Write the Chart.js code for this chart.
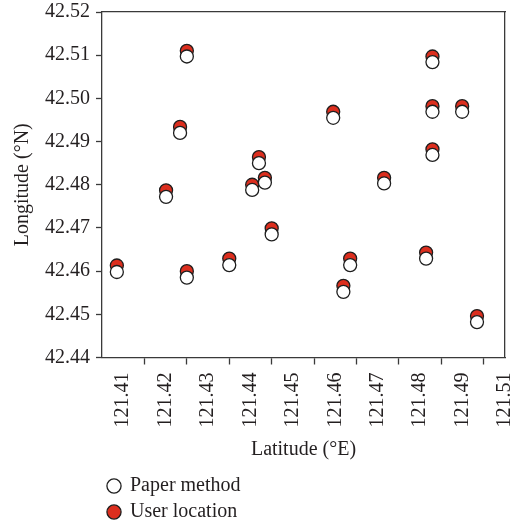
<!DOCTYPE html>
<html><head><meta charset="utf-8">
<script src="https://cdn.jsdelivr.net/npm/chart.js@4/dist/chart.umd.min.js"></script>
<style>html,body{margin:0;padding:0;background:#fff}#wrap{width:518px;height:526px}</style>
</head><body><div id="wrap"><canvas id="c" width="518" height="526"></canvas></div>
<script>
// ---- data ----
const latPaper = [121.4200, 121.4184, 121.4370, 121.4384, 121.4354, 121.4151, 121.4035, 121.4200, 121.4300, 121.4400,
                  121.4779, 121.4545, 121.4779, 121.4849, 121.4779, 121.4665, 121.4585, 121.4569, 121.4764, 121.4884];
const lonPaper = [42.5097, 42.4920, 42.4850, 42.4805, 42.4788, 42.4772, 42.4598, 42.4585, 42.4614, 42.4685,
                  42.5084, 42.4955, 42.4969, 42.4969, 42.4869, 42.4803, 42.4614, 42.4552, 42.4629, 42.4482];
const latUser  = [121.4200, 121.4184, 121.4370, 121.4384, 121.4354, 121.4151, 121.4035, 121.4200, 121.4300, 121.4400,
                  121.4779, 121.4545, 121.4779, 121.4849, 121.4779, 121.4665, 121.4585, 121.4569, 121.4764, 121.4884];
const lonUser  = [42.5110, 42.4934, 42.4864, 42.4816, 42.4800, 42.4787, 42.4613, 42.4600, 42.4629, 42.4699,
                  42.5097, 42.4969, 42.4982, 42.4982, 42.4882, 42.4816, 42.4629, 42.4566, 42.4643, 42.4496];

const seriesNames = ['Paper method', 'User location'];
const xTickValues = [121.41, 121.42, 121.43, 121.44, 121.45, 121.46, 121.47, 121.48, 121.49];
const xLabelSlots = [121.41, 121.42, 121.43, 121.44, 121.45, 121.46, 121.47, 121.48, 121.49, 121.50];
const xTickLabels = ['121.41', '121.42', '121.43', '121.44', '121.45', '121.46', '121.47', '121.48', '121.49', '121.51'];
const yTickValues = [42.44, 42.45, 42.46, 42.47, 42.48, 42.49, 42.50, 42.51, 42.52];
const yTickLabels = ['42.44', '42.45', '42.46', '42.47', '42.48', '42.49', '42.50', '42.51', '42.52'];
const xTitle = 'Latitude (°E)';
const yTitle = 'Longitude (°N)';

// ---- styling ----
const FONT = "'Liberation Serif', 'DejaVu Serif', serif";
const TXT = '#231f20';
const AX = '#3a3a3a';
const X_MIN = 121.40, X_MAX = 121.495, HALF_STEP = 0.005;

const toPts = (xs, ys) => xs.map((x, i) => ({x: x, y: ys[i]}));

new Chart(document.getElementById('c'), {
  type: 'scatter',
  data: {
    datasets: [
      { label: seriesNames[0], data: toPts(latPaper, lonPaper), backgroundColor: '#ffffff',
        borderColor: '#1e1e1e', borderWidth: 1.3, pointRadius: 6.5, pointHoverRadius: 6.5 },
      { label: seriesNames[1], data: toPts(latUser, lonUser), backgroundColor: '#dc2e1e',
        borderColor: '#1e1e1e', borderWidth: 1.3, pointRadius: 6.5, pointHoverRadius: 6.5 }
    ]
  },
  options: {
    responsive: false,
    animation: false,
    events: [],
    layout: { padding: { left: 7, right: 13, top: 12, bottom: -6 } },
    plugins: {
      tooltip: { enabled: false },
      legend: {
        position: 'bottom',
        align: 'start',
        fullSize: false,
        labels: {
          usePointStyle: true,
          pointStyle: 'circle',
          boxWidth: 12,
          boxHeight: 10,
          padding: 6,
          color: TXT,
          font: { family: FONT, size: 20 },
          generateLabels: (chart) => Chart.defaults.plugins.legend.labels.generateLabels(chart)
            .map(item => Object.assign(item, { text: item.text + ' '.repeat(50) }))
        }
      }
    },
    scales: {
      x: {
        type: 'linear', position: 'bottom', min: X_MIN, max: X_MAX,
        afterBuildTicks: (axis) => { axis.ticks = xTickValues.map(v => ({ value: v })); },
        ticks: { display: false },
        grid: { display: true, drawOnChartArea: false, drawTicks: true, tickLength: 7, tickColor: AX, tickWidth: 1.3 },
        border: { display: true, color: AX, width: 1.3 }
      },
      xLab: {
        type: 'linear', position: 'bottom', min: X_MIN + HALF_STEP, max: X_MAX + HALF_STEP,
        afterBuildTicks: (axis) => { axis.ticks = xLabelSlots.map(v => ({ value: v })); },
        afterFit: (axis) => { axis.paddingLeft = 0; axis.paddingRight = 0; },
        ticks: { autoSkip: false, minRotation: 90, maxRotation: 90, padding: 8, color: TXT,
                 font: { family: FONT, size: 20 }, callback: (v, i) => xTickLabels[i] },
        grid: { display: false, drawTicks: false },
        border: { display: false },
        title: { display: true, text: xTitle, color: TXT, font: { family: FONT, size: 20 }, padding: { top: 2, bottom: 8.5 } }
      },
      xTop: {
        type: 'linear', position: 'top', min: X_MIN, max: X_MAX,
        ticks: { display: false }, grid: { display: false, drawTicks: false },
        border: { display: true, color: AX, width: 1.3 }
      },
      y: {
        type: 'linear', position: 'left', min: 42.44, max: 42.52,
        afterBuildTicks: (axis) => { axis.ticks = yTickValues.map(v => ({ value: v })); },
        afterFit: (axis) => { axis.paddingTop = 0; axis.paddingBottom = 0; },
        ticks: { padding: 6, color: TXT, font: { family: FONT, size: 20 }, callback: (v, i) => yTickLabels[i] },
        grid: { display: true, drawOnChartArea: false, drawTicks: true, tickLength: 6, tickColor: AX, tickWidth: 1.3 },
        border: { display: true, color: AX, width: 1.3 },
        title: { display: true, text: yTitle, color: TXT, font: { family: FONT, size: 20 }, padding: { top: 4, bottom: 4 } }
      },
      yRight: {
        type: 'linear', position: 'right', min: 42.44, max: 42.52,
        ticks: { display: false }, grid: { display: false, drawTicks: false },
        border: { display: true, color: AX, width: 1.3 }
      }
    }
  }
});
</script>
</body></html>
